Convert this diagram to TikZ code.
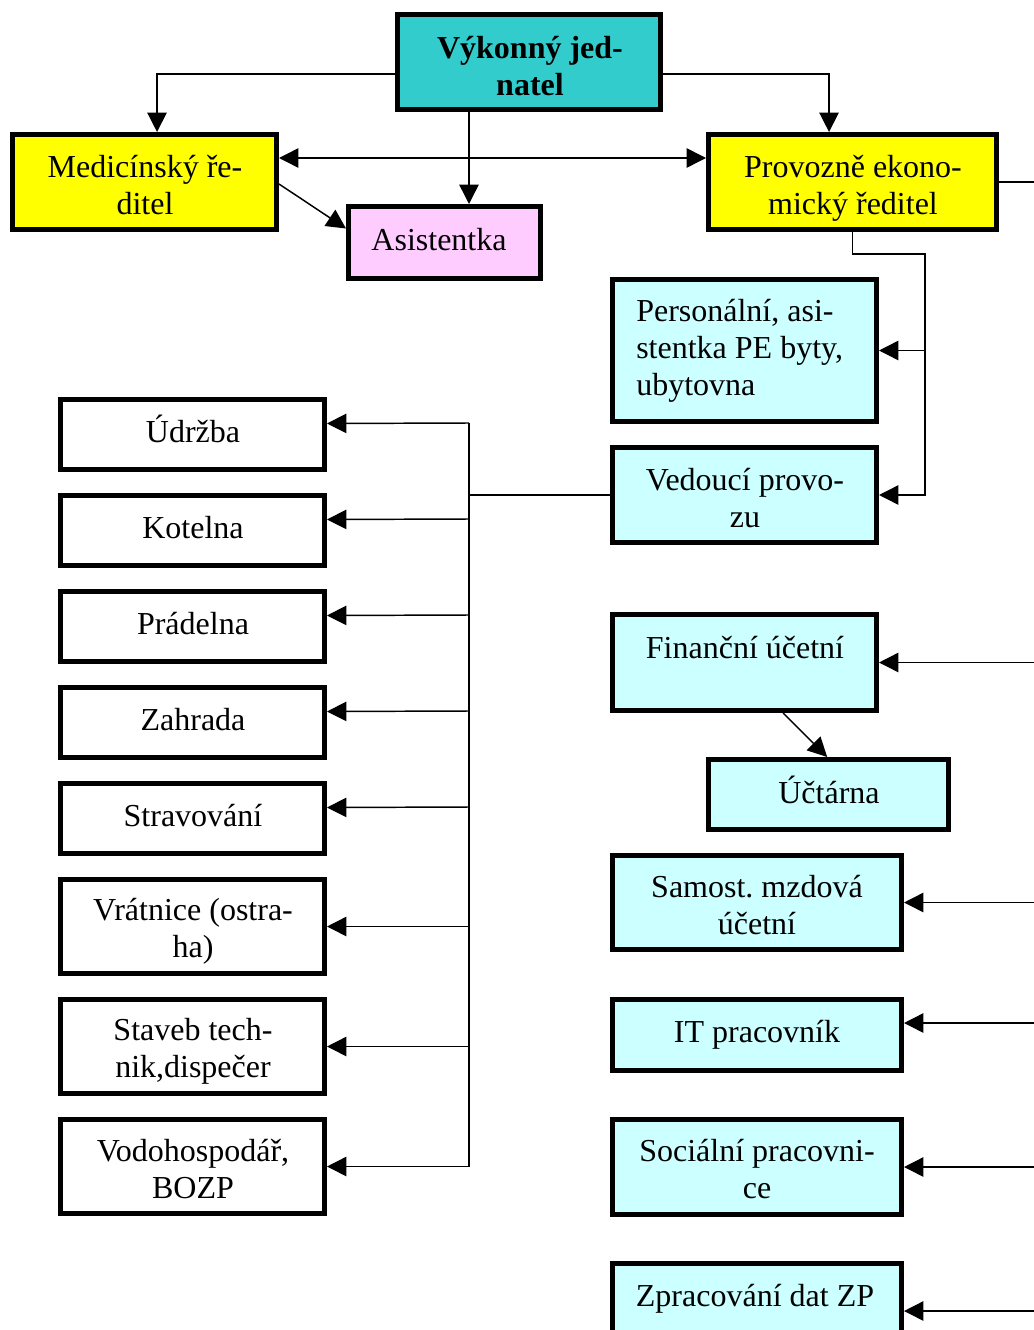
\documentclass[tikz,border=0pt]{standalone}
\usepackage{fontspec}
\setmainfont{Liberation Serif}
\usetikzlibrary{arrows.meta}
\frenchspacing

\definecolor{teal}{HTML}{33CCCC}
\definecolor{yel}{HTML}{FFFF00}
\definecolor{pinkL}{HTML}{FFCCFF}
\definecolor{cyanL}{HTML}{CCFFFF}

% struts so that every label has the same top and bottom
\newcommand{\topst}{\rule{0pt}{0.95em}}
\newcommand{\botst}{\rule[-0.25em]{0pt}{0pt}}

% a box given by its outer corners in px: name, style, x1, y1, x2, y2
\newcommand{\orgbox}[6]{%
  \node[unit, #2, minimum width={(#5-#3-5)*0.75pt}, minimum height={(#6-#4-5)*0.75pt}]
    (#1) at ({(#3+#5)/2},{(#4+#6)/2}) {};}

\tikzset{
  unit/.style={draw=black, line width=3.75pt, rectangle, inner sep=0pt},
  lab/.style={font=\fontsize{24}{27.75}\selectfont, align=center, inner sep=0pt,
    execute at begin node=\topst, execute at end node=\botst},
  conn/.style={line width=1.1pt},
  arr/.style={conn, -{Triangle[length=14.5pt,width=14.5pt]}},
  arrs/.style={conn, {Triangle[length=14.5pt,width=14.5pt]}-{Triangle[length=14.5pt,width=14.5pt]}},
}

\begin{document}
\begin{tikzpicture}[x=0.75pt,y=-0.75pt]
\useasboundingbox (0,0) rectangle (1034,1330);
\clip (0,0) rectangle (1034,1330);

% top level
\orgbox{vyk}{fill=teal}{395}{12}{663}{112}
\orgbox{med}{fill=yel}{10}{132}{279}{232}
\orgbox{asi}{fill=pinkL}{346}{204}{543}{281}
\orgbox{pe}{fill=yel}{706}{132}{999}{232}

% right column
\orgbox{pers}{fill=cyanL}{610}{277}{879}{424}
\orgbox{ved}{fill=cyanL}{610}{445}{879}{545}
\orgbox{fin}{fill=cyanL}{610}{612}{879}{713}
\orgbox{uct}{fill=cyanL}{706}{757}{951}{832}
\orgbox{mzd}{fill=cyanL}{610}{853}{904}{952}
\orgbox{it}{fill=cyanL}{610}{997}{904}{1073}
\orgbox{soc}{fill=cyanL}{610}{1117}{904}{1217}
\orgbox{zpr}{fill=cyanL}{610}{1261}{904}{1361}

% left column
\orgbox{udr}{fill=white}{58}{397}{327}{472}
\orgbox{kot}{fill=white}{58}{493}{327}{568}
\orgbox{pra}{fill=white}{58}{589}{327}{664}
\orgbox{zah}{fill=white}{58}{685}{327}{760}
\orgbox{str}{fill=white}{58}{781}{327}{856}
\orgbox{vra}{fill=white}{58}{877}{327}{976}
\orgbox{sta}{fill=white}{58}{997}{327}{1096}
\orgbox{vod}{fill=white}{58}{1117}{327}{1216}

% labels
\node[lab, font=\fontsize{24}{27.75}\selectfont\bfseries] (vyk-t) at (530,69.5) {Výkonný jed-\\natel};
\node[lab] (med-t) at (145,189) {Medicínský ře-\\ditel};
\node[lab] (asi-t) at (439,239) {Asistentka};
\node[lab] (pe-t) at (853,189) {Provozně ekono-\\mický ředitel};
\node[lab, align=left, anchor=west] (pers-t) at (636,351.5) {Personální, asi-\\stentka PE byty,\\ubytovna};
\node[lab] (ved-t) at (745,501.5) {Vedoucí provo-\\zu};
\node[lab] (fin-t) at (745,647) {Finanční účetní};
\node[lab] (uct-t) at (829,792) {Účtárna};
\node[lab] (mzd-t) at (757,908.5) {Samost. mzdová\\účetní};
\node[lab] (it-t) at (757,1031) {IT pracovník};
\node[lab] (soc-t) at (757,1173) {Sociální pracovni-\\ce};
\node[lab] (zpr-t) at (755,1295) {Zpracování dat ZP};

\node[lab] (udr-t) at (193,431) {Údržba};
\node[lab] (kot-t) at (193,527) {Kotelna};
\node[lab] (pra-t) at (193,623) {Prádelna};
\node[lab] (zah-t) at (193,719) {Zahrada};
\node[lab] (str-t) at (193,815) {Stravování};
\node[lab] (vra-t) at (193,932) {Vrátnice (ostra-\\ha)};
\node[lab] (sta-t) at (193,1052) {Staveb tech-\\nik,dispečer};
\node[lab] (vod-t) at (193,1173) {Vodohospodář,\\BOZP};

% connectors from the executive
\draw[arr] ([yshift=-9pt]vyk.west) -| ([xshift=9.4pt]med.north);
\draw[arr] ([yshift=-9pt]vyk.east) -| ([xshift=-17.6pt]pe.north);
\draw[arr] ([xshift=-45pt]vyk.south) -- ([xshift=-45pt]vyk.south |- asi.north);
\draw[arrs] ([yshift=18pt]med.east) -- ([yshift=18pt]pe.west);
\draw[arr] ([yshift=-1.5pt]med.east) -- ([yshift=10.5pt]asi.west);

% operations director branch
\coordinate (jp) at (925,254);
\draw[arr] (pe.south) |- (jp) |- (ved.east);
\draw[arr] (jp |- pers.east) -- (pers.east);

% right-hand bus running past the edge
\path (pe.east) ++(61,0) coordinate (rb);
\draw[conn] (pe.east) -- (rb) -- (rb |- zpr.east);
\draw[arr] (rb |- fin.east) -- (fin.east);
\draw[arr] (rb |- mzd.east) -- (mzd.east);
\draw[arr] (rb |- 0,1023) -- ([yshift=9pt]it.east);
\draw[arr] (rb |- soc.east) -- (soc.east);
\draw[arr] (rb |- zpr.east) -- (zpr.east);

\draw[arr] ([xshift=29pt]fin.south) -- ([xshift=-1pt]uct.north);

% operations manager bus
\coordinate (lb) at (469,495);
\draw[conn] (ved.west) -- (lb);
\draw[conn] (469,423) -- (469,1167);
\draw[arr] (lb |- 0,423) -- ([yshift=8.25pt]udr.east);
\draw[arr] (lb |- 0,519) -- ([yshift=8.25pt]kot.east);
\draw[arr] (lb |- 0,615) -- ([yshift=8.25pt]pra.east);
\draw[arr] (lb |- 0,711) -- ([yshift=8.25pt]zah.east);
\draw[arr] (lb |- 0,807) -- ([yshift=8.25pt]str.east);
\draw[arr] (lb |- vra.east) -- (vra.east);
\draw[arr] (lb |- sta.east) -- (sta.east);
\draw[arr] (lb |- vod.east) -- (vod.east);
\end{tikzpicture}
\end{document}
